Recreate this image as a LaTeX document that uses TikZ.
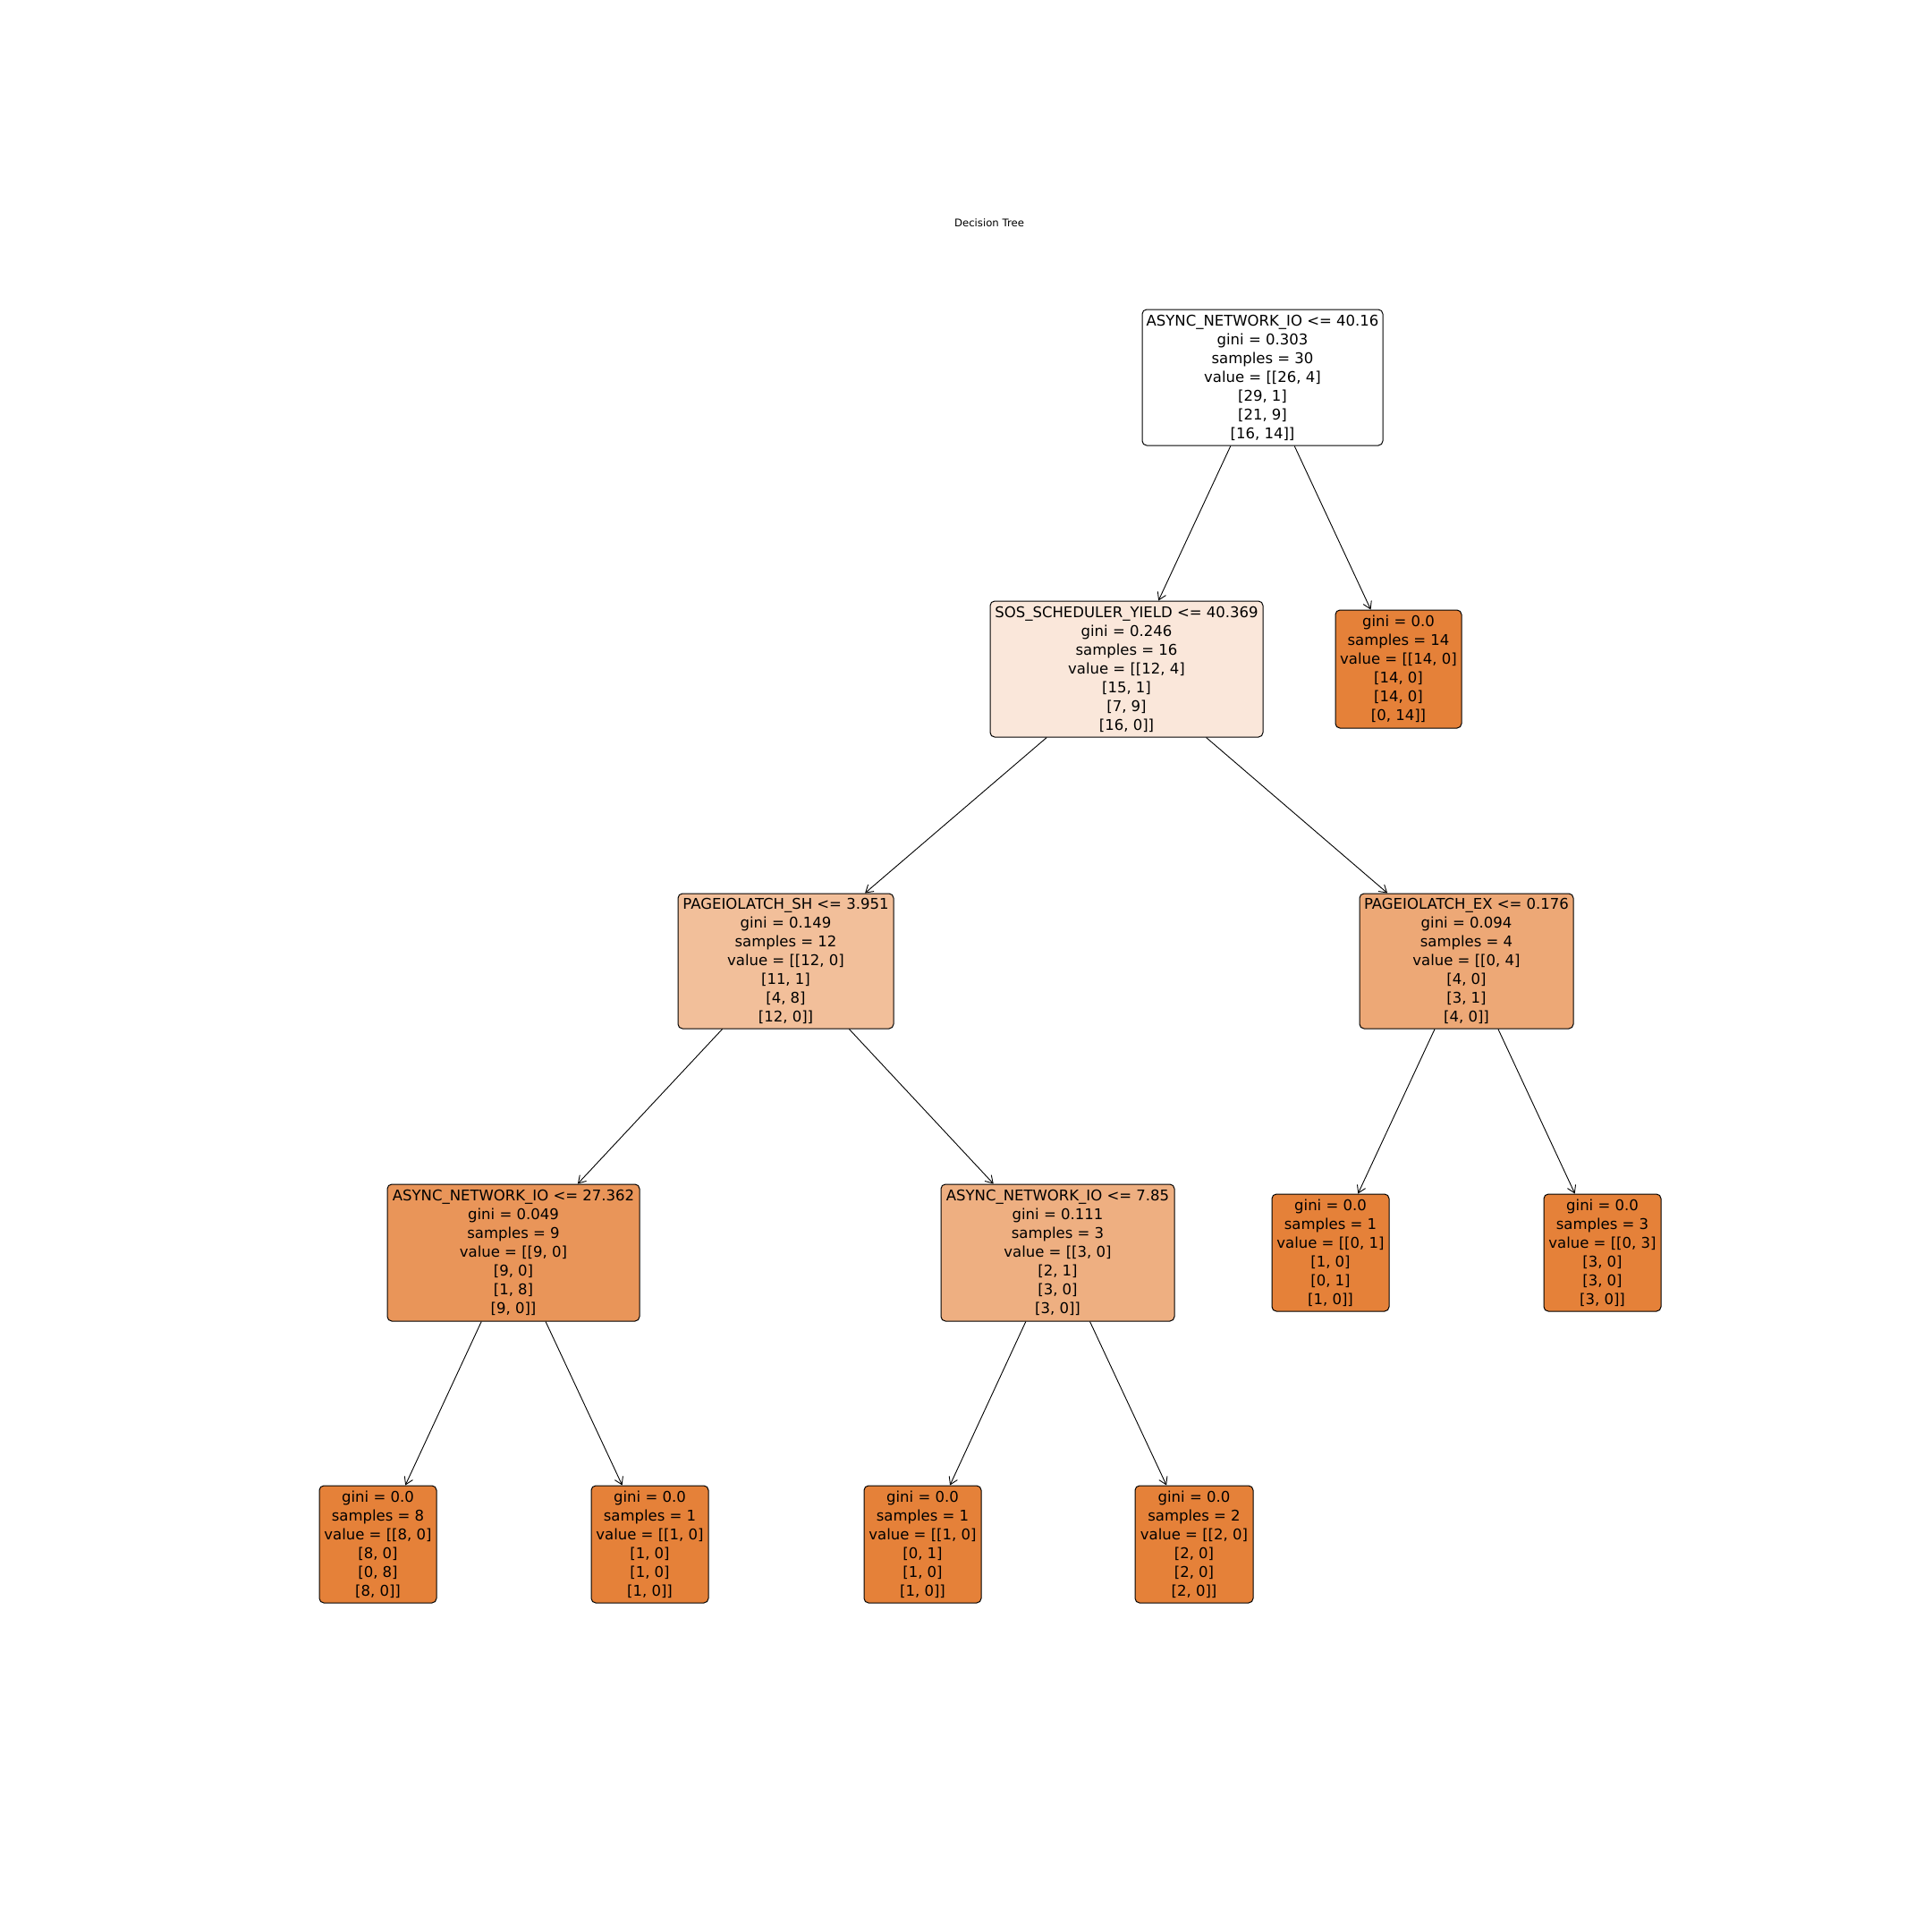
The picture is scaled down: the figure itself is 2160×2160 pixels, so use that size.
\documentclass[tikz,border=0pt]{standalone}
\usepackage{fontspec}
\setmainfont{DejaVu Sans}
\usetikzlibrary{arrows.meta}

\definecolor{cRoot}{RGB}{255,255,255}
\definecolor{cSos}{RGB}{250,231,218}
\definecolor{cSh}{RGB}{242,191,154}
\definecolor{cEx}{RGB}{237,168,118}
\definecolor{cAa}{RGB}{233,149,89}
\definecolor{cAb}{RGB}{238,175,129}
\definecolor{cLeaf}{RGB}{229,129,57}

% line break that is safe before a line starting with "["
\newcommand{\nl}{\\\relax}

\tikzset{
  tbox/.style={draw=black, line width=0.5pt, rounded corners=2.5pt,
    align=center, inner sep=0pt, anchor=center,
    font=\fontsize{8.25pt}{10.5pt}\selectfont},
  edge/.style={draw=black, line width=0.45pt,
    -{Straight Barb[length=4pt,width=5pt,line width=0.45pt]}},
}

\begin{document}
\begin{tikzpicture}[x=0.5pt,y=-0.5pt]
  \useasboundingbox[fill=white] (0,0) rectangle (2160,2160);

  \node[font=\fontsize{5.85pt}{7pt}\selectfont] (title) at (1106,249) {Decision Tree};

  % internal split nodes
  \node[tbox, fill=cRoot, minimum width=134.5pt, minimum height=76pt] (root) at (1411.5,422)
    {ASYNC\_NETWORK\_IO <= 40.16\nl gini = 0.303\nl samples = 30\nl value = [[26, 4]\nl [29, 1]\nl [21, 9]\nl [16, 14]]};
  \node[tbox, fill=cSos, minimum width=152.5pt, minimum height=76pt] (sos) at (1259.5,748)
    {SOS\_SCHEDULER\_YIELD <= 40.369\nl gini = 0.246\nl samples = 16\nl value = [[12, 4]\nl [15, 1]\nl [7, 9]\nl [16, 0]]};
  \node[tbox, fill=cLeaf, minimum width=70.5pt, minimum height=66pt] (l14) at (1563.5,748)
    {gini = 0.0\nl samples = 14\nl value = [[14, 0]\nl [14, 0]\nl [14, 0]\nl [0, 14]]};
  \node[tbox, fill=cSh, minimum width=120.5pt, minimum height=75.5pt] (sh) at (878.5,1074.5)
    {PAGEIOLATCH\_SH <= 3.951\nl gini = 0.149\nl samples = 12\nl value = [[12, 0]\nl [11, 1]\nl [4, 8]\nl [12, 0]]};
  \node[tbox, fill=cEx, minimum width=119.5pt, minimum height=75.5pt] (ex) at (1639.5,1074.5)
    {PAGEIOLATCH\_EX <= 0.176\nl gini = 0.094\nl samples = 4\nl value = [[0, 4]\nl [4, 0]\nl [3, 1]\nl [4, 0]]};
  \node[tbox, fill=cAa, minimum width=141pt, minimum height=76.5pt] (aa) at (574,1400.5)
    {ASYNC\_NETWORK\_IO <= 27.362\nl gini = 0.049\nl samples = 9\nl value = [[9, 0]\nl [9, 0]\nl [1, 8]\nl [9, 0]]};
  \node[tbox, fill=cAb, minimum width=130.5pt, minimum height=76.5pt] (ab) at (1182.5,1400.5)
    {ASYNC\_NETWORK\_IO <= 7.85\nl gini = 0.111\nl samples = 3\nl value = [[3, 0]\nl [2, 1]\nl [3, 0]\nl [3, 0]]};

  % leaves
  \node[tbox, fill=cLeaf, minimum width=65.5pt, minimum height=65.5pt] (le1) at (1487.5,1400.5)
    {gini = 0.0\nl samples = 1\nl value = [[0, 1]\nl [1, 0]\nl [0, 1]\nl [1, 0]]};
  \node[tbox, fill=cLeaf, minimum width=65.5pt, minimum height=65.5pt] (le3) at (1791.5,1400.5)
    {gini = 0.0\nl samples = 3\nl value = [[0, 3]\nl [3, 0]\nl [3, 0]\nl [3, 0]]};
  \node[tbox, fill=cLeaf, minimum width=65.5pt, minimum height=65.5pt] (la8) at (422.5,1726.5)
    {gini = 0.0\nl samples = 8\nl value = [[8, 0]\nl [8, 0]\nl [0, 8]\nl [8, 0]]};
  \node[tbox, fill=cLeaf, minimum width=65.5pt, minimum height=65.5pt] (la1) at (726.5,1726.5)
    {gini = 0.0\nl samples = 1\nl value = [[1, 0]\nl [1, 0]\nl [1, 0]\nl [1, 0]]};
  \node[tbox, fill=cLeaf, minimum width=65.5pt, minimum height=65.5pt] (lb1) at (1031.5,1726.5)
    {gini = 0.0\nl samples = 1\nl value = [[1, 0]\nl [0, 1]\nl [1, 0]\nl [1, 0]]};
  \node[tbox, fill=cLeaf, minimum width=66pt, minimum height=65.5pt] (lb2) at (1335,1726.5)
    {gini = 0.0\nl samples = 2\nl value = [[2, 0]\nl [2, 0]\nl [2, 0]\nl [2, 0]]};

  % connectors
  \draw[edge] (root) -- (sos);
  \draw[edge] (root) -- (l14);
  \draw[edge] (sos) -- (sh);
  \draw[edge] (sos) -- (ex);
  \draw[edge] (sh) -- (aa);
  \draw[edge] (sh) -- (ab);
  \draw[edge] (ex) -- (le1);
  \draw[edge] (ex) -- (le3);
  \draw[edge] (aa) -- (la8);
  \draw[edge] (aa) -- (la1);
  \draw[edge] (ab) -- (lb1);
  \draw[edge] (ab) -- (lb2);
\end{tikzpicture}
\end{document}
